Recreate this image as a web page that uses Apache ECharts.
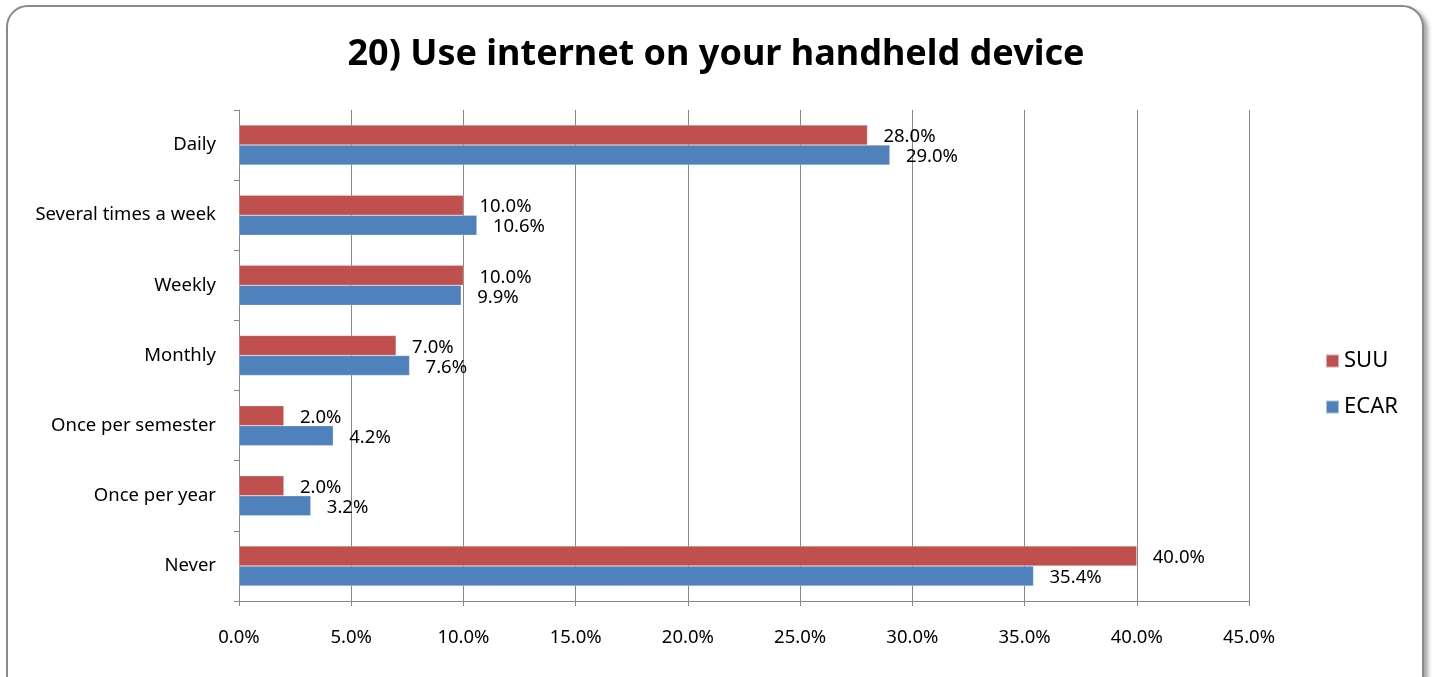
<!DOCTYPE html>
<html><head><meta charset="utf-8">
<script src="https://cdn.jsdelivr.net/npm/echarts@6/dist/echarts.min.js"></script>
<style>
html,body{margin:0;padding:0;background:#fff;width:1432px;height:677px;overflow:hidden;}
#frame{position:absolute;left:6px;top:5px;width:1414px;height:690px;border:2px solid #8a8a8a;border-radius:22px;box-shadow:4px 3px 4px rgba(0,0,0,0.35);background:#fff;}
#chart{position:absolute;left:0;top:0;width:1432px;height:677px;}
</style></head>
<body>
<div id="frame"></div>
<div id="chart"></div>
<script>
const titleText = '20) Use internet on your handheld device';
const categories = ['Daily','Several times a week','Weekly','Monthly','Once per semester','Once per year','Never'];
const suuValues = [28.0, 10.0, 10.0, 7.0, 2.0, 2.0, 40.0];
const ecarValues = [29.0, 10.6, 9.9, 7.6, 4.2, 3.2, 35.4];
const seriesNames = ['SUU','ECAR'];

const chart = echarts.init(document.getElementById('chart'), null, {renderer:'canvas'});
const font = 'Noto Sans';
const lbl = {show:true, position:'right', distance:16, offset:[0,2], color:'#000', fontFamily:font, fontSize:18.5,
  formatter: p => p.value.toFixed(1) + '%'};
chart.setOption({
  backgroundColor:'transparent',
  animation:false,
  title:{text:titleText, left:'center', top:32, textStyle:{fontFamily:font, fontWeight:'bold', fontSize:36, color:'#000'}},
  legend:{orient:'vertical', left:1320, top:345, itemWidth:13, itemHeight:13, itemGap:24, icon:'rect',
    textStyle:{fontFamily:font, fontSize:22, color:'#000'}, data:seriesNames},
  grid:{left:239, right:183, top:110, bottom:76, containLabel:false},
  xAxis:{type:'value', min:0, max:45, interval:5,
    axisLine:{show:true, lineStyle:{color:'#888', width:1}},
    axisTick:{show:true, length:5, lineStyle:{color:'#888'}},
    axisLabel:{fontFamily:font, fontSize:18.5, color:'#000', margin:27, formatter: v => v.toFixed(1)+'%'},
    splitLine:{show:true, lineStyle:{color:'#888', width:1}}},
  yAxis:{type:'category', data:categories, inverse:true,
    axisLine:{show:true, lineStyle:{color:'#888', width:1}},
    axisTick:{show:true, length:5, lineStyle:{color:'#888'}},
    axisLabel:{fontFamily:font, fontSize:18.5, color:'#000', margin:23}},
  series:[
    {name:seriesNames[0], type:'bar', data:suuValues, barWidth:20, barGap:'0%',
     itemStyle:{color:'#C0504D', borderColor:'rgba(255,255,255,0.5)', borderWidth:0.5}, label:lbl},
    {name:seriesNames[1], type:'bar', data:ecarValues, barWidth:20, barGap:'0%',
     itemStyle:{color:'#4F81BD', borderColor:'rgba(255,255,255,0.5)', borderWidth:0.5}, label:lbl}
  ]
});
</script>
</body></html>
